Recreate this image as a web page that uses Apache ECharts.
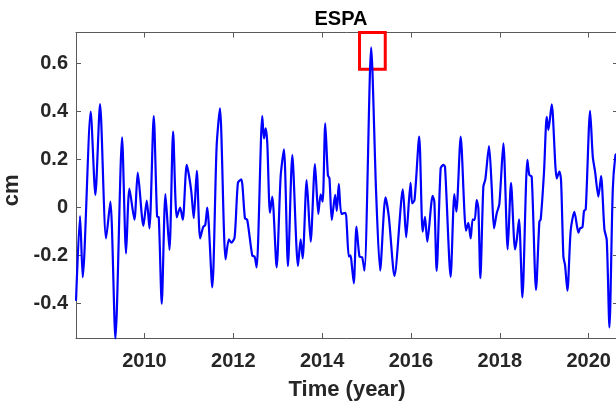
<!DOCTYPE html>
<html>
<head>
<meta charset="utf-8">
<title>ESPA</title>
<script src="https://cdn.jsdelivr.net/npm/echarts@6/dist/echarts.min.js"></script>
<style>
  html, body { margin: 0; padding: 0; background: #fff; }
  #chart { width: 616px; height: 403px; }
</style>
</head>
<body>
<div id="chart"></div>
<script>
// Station ESPA: time series of the displacement signal (cm)
const sampleYears = [
  2008.461, 2008.551, 2008.611, 2008.791, 2008.896, 2009.001, 2009.137, 2009.234, 2009.347, 2009.497,
  2009.587, 2009.662, 2009.775, 2009.850, 2009.977, 2010.053, 2010.113, 2010.210, 2010.285, 2010.323,
  2010.390, 2010.473, 2010.563, 2010.646, 2010.728, 2010.803, 2010.863, 2010.953, 2011.051, 2011.111,
  2011.179, 2011.254, 2011.324, 2011.369, 2011.414, 2011.527, 2011.625, 2011.700, 2011.827, 2011.902,
  2011.955, 2012.030, 2012.105, 2012.180, 2012.263, 2012.315, 2012.428, 2012.480, 2012.526, 2012.653,
  2012.691, 2012.728, 2012.766, 2012.826, 2012.878, 2012.976, 2013.066, 2013.141, 2013.231, 2013.329,
  2013.456, 2013.517, 2013.562, 2013.652, 2013.742, 2013.839, 2013.914, 2013.967, 2014.012, 2014.070,
  2014.130, 2014.165, 2014.218, 2014.293, 2014.330, 2014.375, 2014.435, 2014.526, 2014.556, 2014.601,
  2014.638, 2014.668, 2014.713, 2014.773, 2014.841, 2014.901, 2014.953, 2015.104, 2015.216, 2015.306,
  2015.426, 2015.502, 2015.629, 2015.817, 2015.892, 2015.990, 2016.027, 2016.080, 2016.185, 2016.263,
  2016.315, 2016.368, 2016.488, 2016.526, 2016.578, 2016.668, 2016.728, 2016.766, 2016.893, 2016.976,
  2017.021, 2017.119, 2017.239, 2017.291, 2017.344, 2017.389, 2017.434, 2017.479, 2017.517, 2017.562,
  2017.629, 2017.674, 2017.757, 2017.817, 2017.869, 2017.929, 2017.989, 2018.080, 2018.177, 2018.252,
  2018.342, 2018.380, 2018.432, 2018.508, 2018.620, 2018.665, 2018.718, 2018.815, 2018.890, 2018.920,
  2018.995, 2019.056, 2019.093, 2019.168, 2019.281, 2019.341, 2019.378, 2019.431, 2019.468, 2019.521,
  2019.596, 2019.679, 2019.769, 2019.806, 2019.859, 2019.896, 2019.934, 2020.032, 2020.092, 2020.144,
  2020.219, 2020.279, 2020.354, 2020.407, 2020.467, 2020.542, 2020.602, 2020.640
];
const espaCm = [
  -0.385, -0.035, -0.290, 0.400, 0.053, 0.432, -0.128, 0.025, -0.545, 0.293,
  -0.190, 0.080, -0.050, 0.146, -0.076, 0.030, -0.086, 0.382, -0.037, -0.040,
  -0.400, 0.057, -0.176, 0.317, -0.040, 0.000, -0.050, 0.178, 0.074, -0.044,
  0.154, -0.128, -0.080, -0.072, 0.000, -0.332, 0.254, 0.414, -0.215, -0.132,
  -0.146, -0.124, 0.104, 0.118, -0.044, -0.051, -0.200, -0.204, -0.249, 0.382,
  0.289, 0.331, 0.268, -0.021, 0.046, -0.249, 0.129, 0.243, -0.243, 0.219,
  -0.243, -0.132, -0.211, 0.115, -0.142, 0.182, -0.026, 0.056, 0.025, 0.351,
  0.136, 0.122, -0.051, 0.053, -0.013, 0.099, -0.026, -0.021, -0.079, -0.204,
  -0.199, -0.239, -0.315, -0.079, -0.204, -0.207, -0.262, 0.668, 0.060, -0.262,
  0.043, -0.038, -0.285, 0.076, -0.124, 0.104, 0.018, 0.032, 0.296, -0.100,
  -0.038, -0.142, 0.049, 0.025, -0.263, 0.164, 0.178, 0.171, -0.288, 0.057,
  -0.017, 0.296, -0.096, -0.063, -0.128, -0.049, -0.051, 0.032, -0.003, -0.294,
  0.088, 0.118, 0.257, 0.088, -0.086, -0.024, 0.015, 0.268, -0.174, 0.104,
  -0.174, -0.135, -0.049, -0.374, 0.199, 0.136, 0.129, -0.343, -0.058, -0.049,
  0.150, 0.379, 0.324, 0.431, 0.122, 0.150, 0.115, -0.204, -0.239, -0.346,
  -0.093, -0.017, -0.104, -0.086, -0.082, -0.013, -0.007, 0.404, 0.213, 0.150,
  0.046, 0.132, -0.090, -0.135, -0.499, 0.074, 0.219, 0.225
];

// Axis ticks and their labels
const yearTicks = [2010, 2012, 2014, 2016, 2018, 2020];
const cmTicks = [-0.4, -0.2, 0, 0.2, 0.4, 0.6];
const cmTickLabels = ['-0.4', '-0.2', '0', '0.2', '0.4', '0.6'];

// Highlighted window around the 2015 peak: [yearStart, yearEnd, cmLow, cmHigh]
const highlightBox = [2014.842, 2015.421, 0.577, 0.730];

const xRange = [2008.46, 2020.66];
const yRange = [-0.543, 0.730];

const FONT = '"Liberation Sans", Arial, Helvetica, sans-serif';
const INK = '#262626';
const AXIS = '#5a5a5a';

const chart = echarts.init(document.getElementById('chart'), null, { renderer: 'canvas' });

const tickStyle = { show: true, inside: true, length: 5, lineStyle: { color: AXIS, width: 1 } };

chart.setOption({
  animation: false,
  backgroundColor: '#ffffff',
  title: {
    text: 'ESPA',
    left: 336,
    top: 4,
    textAlign: 'center',
    textStyle: { fontFamily: FONT, fontWeight: 'bold', fontSize: 20, color: '#000' }
  },
  grid: {
    left: 76, top: 32.5, right: -2, bottom: 65,
    containLabel: false,
    outerBoundsMode: 'none'
  },
  xAxis: [
    {
      type: 'value', position: 'bottom', min: xRange[0], max: xRange[1],
      name: 'Time (year)', nameLocation: 'middle', nameGap: 41,
      nameTextStyle: { fontFamily: FONT, fontWeight: 'bold', fontSize: 22, color: INK },
      axisLine: { show: true, onZero: false, lineStyle: { color: AXIS, width: 1 } },
      axisTick: Object.assign({ customValues: yearTicks }, tickStyle),
      axisLabel: {
        customValues: yearTicks, margin: 13,
        fontFamily: FONT, fontWeight: 'bold', fontSize: 20, color: INK,
        formatter: v => String(v)
      },
      splitLine: { show: false }
    },
    {
      type: 'value', position: 'top', min: xRange[0], max: xRange[1],
      axisLine: { show: true, onZero: false, lineStyle: { color: AXIS, width: 1 } },
      axisTick: Object.assign({ customValues: yearTicks }, tickStyle),
      axisLabel: { show: false },
      splitLine: { show: false }
    }
  ],
  yAxis: [
    {
      type: 'value', position: 'left', min: yRange[0], max: yRange[1],
      name: 'cm', nameLocation: 'middle', nameGap: 47, nameRotate: 90,
      nameTextStyle: { fontFamily: FONT, fontWeight: 'bold', fontSize: 22, color: INK, padding: [0, 10, 0, 0] },
      axisLine: { show: true, onZero: false, lineStyle: { color: AXIS, width: 1 } },
      axisTick: Object.assign({ customValues: cmTicks }, tickStyle),
      axisLabel: {
        customValues: cmTicks, margin: 8,
        fontFamily: FONT, fontWeight: 'bold', fontSize: 20, color: INK,
        formatter: v => cmTickLabels[cmTicks.findIndex(t => Math.abs(t - v) < 1e-9)] ?? String(v)
      },
      splitLine: { show: false }
    },
    {
      type: 'value', position: 'right', min: yRange[0], max: yRange[1],
      axisLine: { show: true, onZero: false, lineStyle: { color: AXIS, width: 1 } },
      axisTick: Object.assign({ customValues: cmTicks }, tickStyle),
      axisLabel: { show: false },
      splitLine: { show: false }
    }
  ],
  series: [
    {
      type: 'line',
      name: 'ESPA',
      xAxisIndex: 0,
      yAxisIndex: 0,
      data: sampleYears.map((t, i) => [t, espaCm[i]]),
      showSymbol: false,
      symbol: 'none',
      smooth: 0.25,
      clip: false,
      lineStyle: { color: '#0000ff', width: 2.2, join: 'round', cap: 'round' },
      markArea: {
        silent: true,
        itemStyle: { color: 'rgba(0,0,0,0)', borderColor: '#ff0000', borderWidth: 3 },
        data: [[
          { xAxis: highlightBox[0], yAxis: highlightBox[3] },
          { xAxis: highlightBox[1], yAxis: highlightBox[2] }
        ]]
      }
    }
  ]
});
</script>
</body>
</html>
